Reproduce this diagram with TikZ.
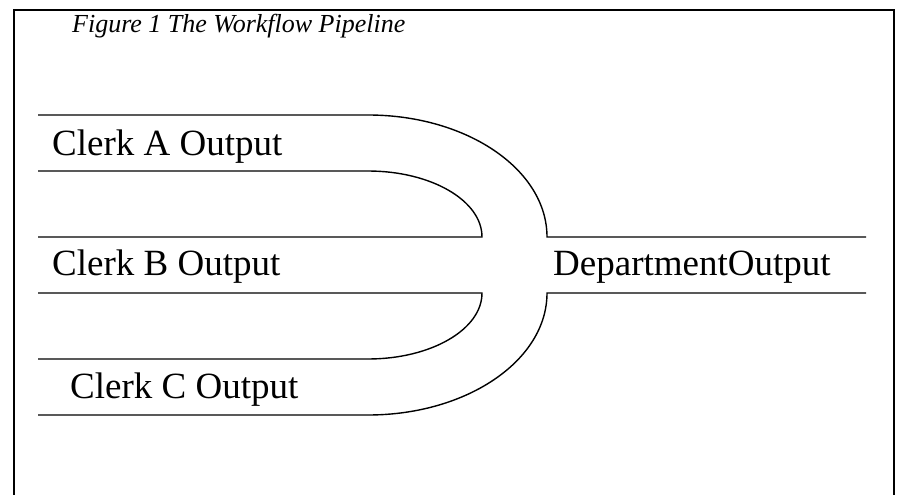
\documentclass[tikz,border=0pt]{standalone}
\usepackage{fontspec}
\setmainfont{Liberation Serif}
\begin{document}
\begin{tikzpicture}[x=1pt,y=-1pt,
  pipe/.style={line width=1.4pt, black},
  frameline/.style={line width=2pt, black},
  lbl/.style={anchor=base west, inner sep=0pt, font=\fontsize{37}{40}\selectfont},
  ttl/.style={anchor=base west, inner sep=0pt, font=\fontsize{26}{30}\selectfont\itshape}]
\useasboundingbox (0,0) rectangle (898,495);
% frame
\draw[frameline] (14,500) -- (14,10) -- (894,10) -- (894,500);
% title
\node[ttl] (title) at (72,33) {Figure 1 The Workflow Pipeline};
% coordinates
\coordinate (aTs) at (38,115);  \coordinate (aTe) at (368,115);
\coordinate (aBs) at (38,171);  \coordinate (aBe) at (368,171);
\coordinate (bTs) at (38,237);  \coordinate (bTe) at (482,237);
\coordinate (bBs) at (38,293);  \coordinate (bBe) at (482,293);
\coordinate (cTs) at (38,359);  \coordinate (cTe) at (368,359);
\coordinate (cBs) at (38,415);  \coordinate (cBe) at (368,415);
\coordinate (dTs) at (547,237); \coordinate (dTe) at (866,237);
\coordinate (dBs) at (547,293); \coordinate (dBe) at (866,293);
% pipes
\draw[pipe] (aTs) -- (aTe) .. controls (466.9,115) and (547,169.6) .. (dTs) -- (dTe);
\draw[pipe] (aBs) -- (aBe) .. controls (431,171) and (482,200.5) .. (bTe) -- (bTs);
\draw[pipe] (bBs) -- (bBe) .. controls (482,329.5) and (431,359) .. (cTe) -- (cTs);
\draw[pipe] (cBs) -- (cBe) .. controls (466.9,415) and (547,360.4) .. (dBs) -- (dBe);
% labels
\node[lbl] (clerkA) at (52,155) {Clerk A Output};
\node[lbl] (clerkB) at (52,275) {Clerk B Output};
\node[lbl] (clerkC) at (70,398) {Clerk C Output};
\node[lbl] (dept) at (553,275) {DepartmentOutput};
\end{tikzpicture}
\end{document}
